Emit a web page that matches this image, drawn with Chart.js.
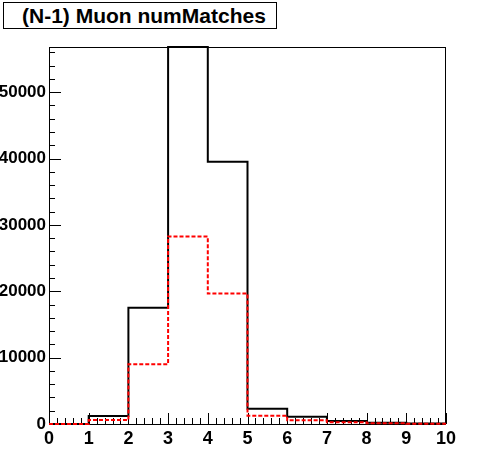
<!DOCTYPE html>
<html>
<head>
<meta charset="utf-8">
<script src="https://cdn.jsdelivr.net/npm/chart.js@4"></script>
<style>
  body { margin: 0; background: #fff; }
  .wrap { position: relative; width: 496px; height: 472px; }
  .title {
    position: absolute; left: 3px; top: 2px; height: 25px; width: 254px;
    border: 1px solid #000; background: #fff;
    font: bold 21px "Liberation Sans", Arial, sans-serif;
    line-height: 25px; padding-left: 18px;
  }
</style>
</head>
<body>
<div class="wrap">
  <canvas id="myChart" width="496" height="472"></canvas>
  <div class="title">(N-1) Muon numMatches</div>
</div>
<script>
// bin edges 0..10, one count per bin
let binEdges = [0, 1, 2, 3, 4, 5, 6, 7, 8, 9, 10];
let allMuons = [0, 1200, 17500, 56800, 39500, 2300, 1100, 450, 200, 60];
let selMuons = [0, 600, 9000, 28250, 19650, 1250, 550, 250, 100, 40];
let yTicks = [0, 10000, 20000, 30000, 40000, 50000];
let xTicks = [0, 1, 2, 3, 4, 5, 6, 7, 8, 9, 10];

function toSteps(counts) {
   let pts = counts.map((c, i) => ({ x: binEdges[i], y: c }));
   pts.push({ x: binEdges[binEdges.length - 1], y: counts[counts.length - 1] });
   return pts;
}

// frame + inward ticks like ROOT
let rootFrame = {
   id: 'rootFrame',
   beforeDatasetsDraw(chart) {
      let ctx = chart.ctx;
      let a = chart.chartArea;
      let xs = chart.scales.x, ys = chart.scales.y;
      ctx.save();
      ctx.strokeStyle = '#000';
      ctx.lineWidth = 1;
      ctx.strokeRect(Math.round(a.left) + 0.5, Math.round(a.top) + 0.5,
                     Math.round(a.right - a.left) - 1, Math.round(a.bottom - a.top));
      ctx.beginPath();
      for (let i = 0; i <= 50; i++) {
         let v = i * 0.2;
         let px = Math.round(xs.getPixelForValue(v)) + 0.5;
         let len = i % 5 === 0 ? 11 : 6;
         ctx.moveTo(px, a.bottom);
         ctx.lineTo(px, a.bottom - len);
      }
      for (let v = 0; v <= ys.max; v += 2000) {
         let py = Math.round(ys.getPixelForValue(v)) + 0.5;
         let len = v % 10000 === 0 ? 12 : 6;
         ctx.moveTo(a.left, py);
         ctx.lineTo(a.left + len, py);
      }
      ctx.stroke();
      ctx.restore();
   }
};

let ctx = document.getElementById('myChart').getContext('2d');
let chart = new Chart(ctx, {
   type: 'line',
   data: {
      datasets: [{
         label: 'selected',
         data: toSteps(selMuons),
         stepped: 'before',
         borderColor: '#ff0000',
         borderWidth: 2,
         borderDash: [4, 2],
         pointRadius: 0,
         fill: false,
         clip: 4,
         order: 0
      }, {
         label: 'all',
         data: toSteps(allMuons),
         stepped: 'before',
         borderColor: '#000',
         borderWidth: 2,
         pointRadius: 0,
         fill: false,
         clip: 4,
         order: 1
      }]
   },
   options: {
      responsive: false,
      animation: false,
      devicePixelRatio: 1,
      layout: { padding: { top: 47, right: 50, left: 0, bottom: 0 } },
      plugins: { legend: { display: false }, tooltip: { enabled: false } },
      scales: {
         x: {
            type: 'linear',
            min: 0,
            max: 10,
            afterFit: s => { s.height = 48; },
            afterBuildTicks: s => { s.ticks = xTicks.map(v => ({ value: v })); },
            grid: { display: false, drawTicks: false },
            border: { display: false },
            ticks: {
               padding: 4,
               color: '#000',
               maxRotation: 0,
               autoSkip: false,
               callback: v => String(v),
               font: { family: 'Liberation Sans', weight: 'bold', size: 18 }
            }
         },
         y: {
            min: 0,
            max: 56800,
            afterFit: s => { s.width = 49; },
            afterBuildTicks: s => { s.ticks = yTicks.map(v => ({ value: v })); },
            grid: { display: false, drawTicks: false },
            border: { display: false },
            ticks: {
               padding: 3,
               color: '#000',
               callback: v => String(v),
               font: { family: 'Liberation Sans', weight: 'bold', size: 17 }
            }
         }
      }
   },
   plugins: [rootFrame]
});
</script>
</body>
</html>
